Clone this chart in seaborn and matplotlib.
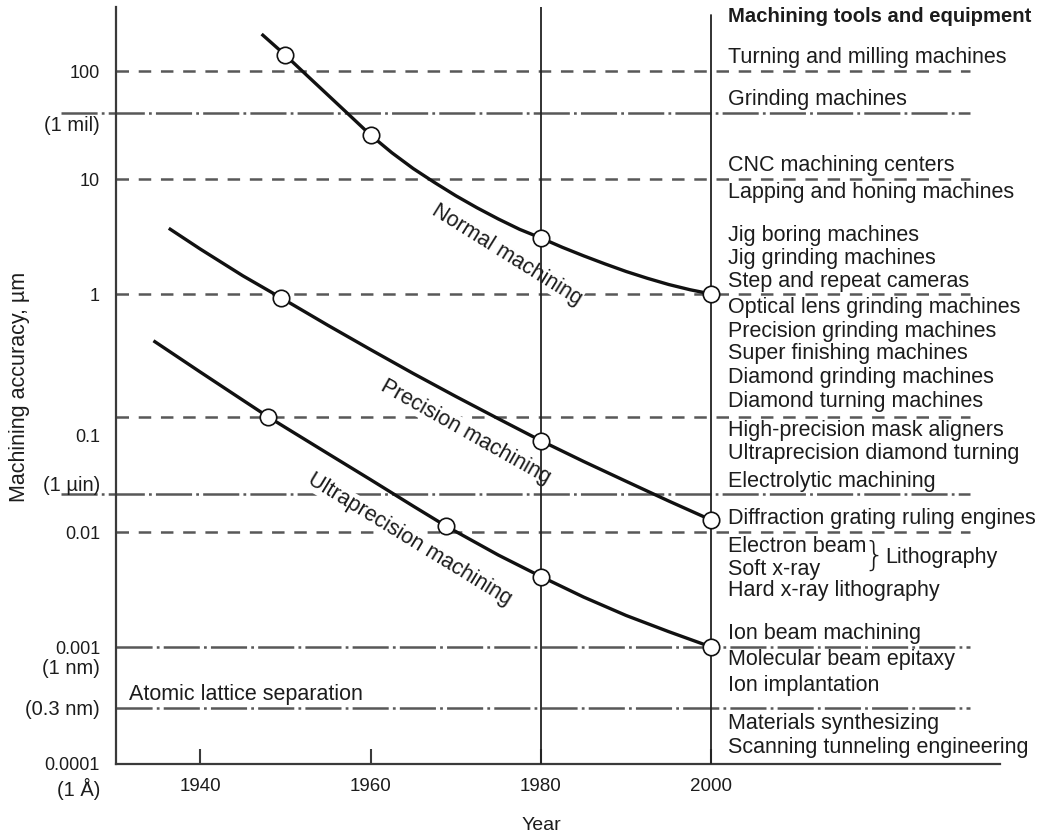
import matplotlib
matplotlib.use("Agg")
import matplotlib.pyplot as plt
import matplotlib.transforms as mtransforms
import numpy as np
import pandas as pd
import seaborn as sns

# ---------------- data ----------------
normal_years = [1947.2, 1950, 1952.5, 1955, 1957.5, 1960, 1962.5, 1965, 1967.5, 1970,
                1972.5, 1975, 1977.5, 1980, 1982.5, 1985, 1987.5, 1990, 1992.5, 1995,
                1997.5, 2000]
normal_vals = [220, 140, 91.4, 59.8, 39.1, 25.5, 17.5, 12.5, 9.33, 7.16,
               5.62, 4.49, 3.65, 3.07, 2.55, 2.15, 1.83, 1.57, 1.37, 1.21,
               1.09, 1.0]
normal_pt_years = [1950, 1960, 1980, 2000]
normal_pt_vals = [140, 25.5, 3.07, 1.0]

precision_years = [1936.3, 1940, 1945, 1949.5, 1955, 1960, 1965, 1970, 1975, 1980,
                   1985, 1990, 1995, 2000]
precision_vals = [3.73, 2.46, 1.44, 0.93, 0.556, 0.353, 0.226, 0.147, 0.0966, 0.0622,
                  0.0411, 0.0276, 0.0186, 0.0127]
precision_pt_years = [1949.5, 1980, 2000]
precision_pt_vals = [0.93, 0.0622, 0.0127]

ultra_years = [1934.5, 1940, 1945, 1948, 1950, 1955, 1960, 1965, 1968.9, 1970, 1975,
               1980, 1985, 1990, 1995, 2000]
ultra_vals = [0.417, 0.232, 0.137, 0.1, 0.081, 0.048, 0.0285, 0.0168, 0.0112, 0.0101,
              0.0063, 0.0041, 0.00272, 0.00188, 0.00136, 0.001]
ultra_pt_years = [1948, 1968.9, 1980, 2000]
ultra_pt_vals = [0.1, 0.0112, 0.0041, 0.001]

dashed_levels = [100, 10, 1, 0.1, 0.01]
dashdot_levels = [40.7, 0.0212, 0.001, 0.0003]  # 1 mil, 1 uin, 1 nm, 0.3 nm (as drawn)
dashdot_long = [True, True, False, False]        # lines that run left past the axis

ytick_vals = [1e-4, 1e-3, 1e-2, 1e-1, 1, 10, 100]
ytick_labels = ["0.0001", "0.001", "0.01", "0.1", "1", "10", "100"]
xtick_vals = [1940, 1960, 1980, 2000]
year_lines = [1980, 2000]

# decade positions of the hand-drawn log axis (relative spacing as drawn)
decade_logs = [-5, -4, -3, -2, -1, 0, 1, 2, 3]
decade_pos = [881, 764, 647, 532, 417, 294, 179, 71, -37]

tools = [
    ("Turning and milling machines", 57),
    ("Grinding machines", 99.5),
    ("CNC machining centers", 165.5),
    ("Lapping and honing machines", 192.5),
    ("Jig boring machines", 235.5),
    ("Jig grinding machines", 258.5),
    ("Step and repeat cameras", 282),
    ("Optical lens grinding machines", 308),
    ("Precision grinding machines", 331),
    ("Super finishing machines", 353.5),
    ("Diamond grinding machines", 377.5),
    ("Diamond turning machines", 401.5),
    ("High-precision mask aligners", 430),
    ("Ultraprecision diamond turning", 453),
    ("Electrolytic machining", 481),
    ("Diffraction grating ruling engines", 518.5),
    ("Electron beam", 546),
    ("Soft x-ray", 569.5),
    ("Hard x-ray lithography", 590.5),
    ("Ion beam machining", 633),
    ("Molecular beam epitaxy", 660),
    ("Ion implantation", 685),
    ("Materials synthesizing", 724),
    ("Scanning tunneling engineering", 748),
]

# ---------------- style ----------------
sns.set_theme(style="white")
plt.rcParams["font.family"] = ["Liberation Sans", "DejaVu Sans"]
plt.rcParams["lines.scale_dashes"] = False
TXT = "#1c1c1c"
GRAY = "#585858"
FS = 15.5        # body text size
TICK_FS_X = 13.5
TICK_FS_Y = 13

W, H = 1047, 839
fig = plt.figure(figsize=(W / 100, H / 100), dpi=100)
fig.patch.set_facecolor("white")

# axes: left spine at x=116, bottom at y=764, top at y=7, right end at x=1000
ax = fig.add_axes([116 / W, 1 - 764 / H, (1000 - 116) / W, (764 - 7) / H])
ax.set_facecolor("white")

_lg = np.array(decade_logs, dtype=float)
_ps = -np.array(decade_pos, dtype=float)


def _fwd(v):
    v = np.clip(np.asarray(v, dtype=float), 1e-12, None)
    return np.interp(np.log10(v), _lg, _ps)


def _inv(p):
    return 10 ** np.interp(np.asarray(p, dtype=float), _ps, _lg)


ax.set_yscale("function", functions=(_fwd, _inv))
ax.set_xlim(1930.1, 2033.9)
ax.set_ylim(1e-4, 10 ** 2.593)

# curves
df = pd.concat([
    pd.DataFrame({"year": normal_years, "acc": normal_vals, "kind": "Normal"}),
    pd.DataFrame({"year": precision_years, "acc": precision_vals, "kind": "Precision"}),
    pd.DataFrame({"year": ultra_years, "acc": ultra_vals, "kind": "Ultra"}),
], ignore_index=True)
pts = pd.concat([
    pd.DataFrame({"year": normal_pt_years, "acc": normal_pt_vals}),
    pd.DataFrame({"year": precision_pt_years, "acc": precision_pt_vals}),
    pd.DataFrame({"year": ultra_pt_years, "acc": ultra_pt_vals}),
], ignore_index=True)

sns.lineplot(data=df, x="year", y="acc", hue="kind", units="kind", estimator=None,
             sort=False, palette=["#111111"] * 3, linewidth=2.4, legend=False,
             ax=ax, zorder=4)
for ln in ax.get_lines():
    ln.set_solid_joinstyle("round")
    ln.set_solid_capstyle("butt")
sns.scatterplot(data=pts, x="year", y="acc", s=140, facecolor="white",
                edgecolor="#111111", linewidth=1.2, ax=ax, zorder=5, clip_on=False)

# reference lines
for v in dashed_levels:
    ax.hlines(v, 1930.1, 2030.4, colors=GRAY, linewidth=1.8,
              linestyles=[(0, (9, 7))], zorder=1, clip_on=False)
for v, long in zip(dashdot_levels, dashdot_long):
    ax.hlines(v, 1923.6 if long else 1930.1, 2030.4, colors=GRAY, linewidth=1.8,
              linestyles=[(0, (26, 3, 2, 3))], zorder=1, clip_on=False)

for yr in year_lines:
    top = 1.0 if yr == 1980 else 0.99
    ax.axvline(yr, ymin=0, ymax=top, color="#222222", linewidth=1.3, zorder=3)

# curve labels
lab_kw = dict(fontsize=FS, color=TXT, ha="center", va="center", zorder=2,
              rotation_mode="anchor",
              bbox=dict(facecolor="white", edgecolor="none", pad=0.5))
ax.text(1976.0, 2.2, "Normal machining", rotation=-32, **lab_kw)
ax.text(1971.2, 0.074, "Precision machining", rotation=-29.5, **lab_kw)
ax.text(1964.6, 0.0086, "Ultraprecision machining", rotation=-31.5, **lab_kw)
ax.text(1931.6, 0.00039, "Atomic lattice separation", fontsize=FS, color=TXT,
        ha="left", va="center", zorder=2)

# axes decoration
sns.despine(ax=ax, top=True, right=True)
for s in ["left", "bottom"]:
    ax.spines[s].set_color("#3a3a3a")
    ax.spines[s].set_linewidth(1.6)
ax.set_xticks(xtick_vals)
ax.set_xticklabels([str(v) for v in xtick_vals], fontsize=TICK_FS_X, color=TXT)
ax.tick_params(axis="x", direction="in", length=11, width=1.5, color="#3a3a3a", pad=10,
               bottom=True)
ax.set_yticks(ytick_vals)
ax.set_yticklabels(ytick_labels, fontsize=TICK_FS_Y, color=TXT)
ax.yaxis.set_minor_locator(matplotlib.ticker.NullLocator())
ax.tick_params(axis="y", length=0, pad=11.5, left=True)
ax.grid(False)
ax.set_xlabel("")
ax.set_ylabel("")

# shift the "0.1" label down as in the reference
for lbl in ax.get_yticklabels():
    if lbl.get_text() == "0.1":
        lbl.set_transform(lbl.get_transform() +
                          mtransforms.ScaledTranslation(0, -0.18, fig.dpi_scale_trans))

# extra y labels
ytr = ax.get_yaxis_transform()


def ylab(val, text, dy_px, fs=14.5):
    off = mtransforms.ScaledTranslation(0, -dy_px / 100, fig.dpi_scale_trans)
    ax.text(-0.018, val, text, transform=ytr + off, ha="right", va="center",
            fontsize=fs, color=TXT, clip_on=False)


ylab(dashdot_levels[0], "(1 mil)", 12)
ylab(dashdot_levels[1], "(1 \u00b5in)", -9)
ylab(1e-3, "(1 nm)", 21)
ylab(dashdot_levels[3], "(0.3 nm)", 1)
ylab(1e-4, "(1 \u00c5)", 25)

# axis titles
fig.text(20 / W, 1 - 387 / H, "Machining accuracy, \u00b5m", rotation=90,
         ha="center", va="center", fontsize=FS, color=TXT)
fig.text(541 / W, 1 - 826 / H, "Year", ha="center", va="center",
         fontsize=14, color=TXT)

# right-hand list of machining equipment
fig.text(728 / W, 1 - 17 / H, "Machining tools and equipment", ha="left", va="center",
         fontsize=14.6, fontweight="bold", color=TXT)
for name, ypx in tools:
    fig.text(728 / W, 1 - ypx / H, name, ha="left", va="center", fontsize=FS, color=TXT)
fig.text(874 / W, 1 - 556 / H, "}", ha="center", va="center", fontsize=24,
         color=TXT, family=["DejaVu Sans"], fontweight="light")
fig.text(885 / W, 1 - 557 / H, "Lithography", ha="left", va="center", fontsize=FS,
         color=TXT)

fig.savefig("out.png", dpi=100, facecolor="white")
